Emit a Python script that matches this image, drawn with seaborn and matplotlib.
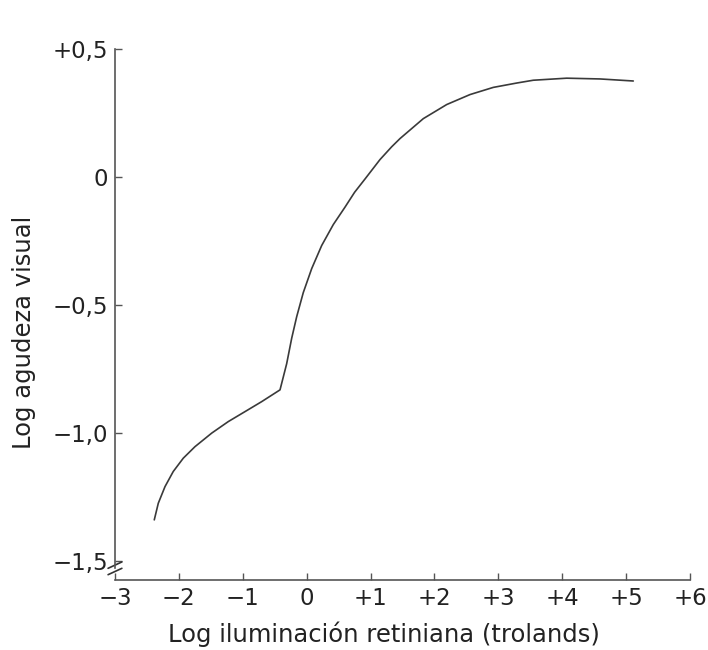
import matplotlib
matplotlib.use("Agg")
import matplotlib.pyplot as plt
import seaborn as sns
import pandas as pd

# curve (log trolands vs log visual acuity)
log_illum = [-2.385, -2.322, -2.217, -2.088, -1.931, -1.748, -1.486, -1.227,
             -0.965, -0.704, -0.417,
             -0.313, -0.234, -0.156, -0.053, 0.079, 0.235, 0.417, 0.600,
             0.750, 0.913, 1.148, 1.331, 1.461, 1.826, 2.192, 2.557, 2.921,
             3.287, 3.547, 4.070, 4.591, 5.112]
log_acuity = [-1.340, -1.275, -1.210, -1.151, -1.099, -1.054, -1.001, -0.956,
              -0.917, -0.878, -0.832,
              -0.730, -0.630, -0.546, -0.452, -0.358, -0.268, -0.186, -0.118,
              -0.060, -0.008, 0.068, 0.118, 0.150, 0.228, 0.283, 0.322, 0.350,
              0.367, 0.378, 0.386, 0.383, 0.375]

x_ticks = [-3, -2, -1, 0, 1, 2, 3, 4, 5, 6]
x_labels = ["\u22123", "\u22122", "\u22121", "0", "+1", "+2", "+3", "+4", "+5", "+6"]
y_ticks = [0.5, 0, -0.5, -1.0, -1.5]
y_labels = ["+0,5", "0", "\u22120,5", "\u22121,0", "\u22121,5"]

df = pd.DataFrame({"x": log_illum, "y": log_acuity})

sns.set_style("ticks")
plt.rcParams['font.family'] = ['DejaVu Sans']
plt.rcParams['xtick.direction'] = 'in'
plt.rcParams['ytick.direction'] = 'in'

fig = plt.figure(figsize=(7.08, 6.5), dpi=100)
ax = fig.add_axes([0.1624, 0.1077, 0.8122, 0.8169])

sns.lineplot(data=df, x="x", y="y", color="#3a3a3a", linewidth=1.2, ax=ax, sort=False)

ax.set_xlim(-3, 6)
ax.set_ylim(-1.575, 0.5)
ax.set_xticks(x_ticks)
ax.set_xticklabels(x_labels)
ax.set_yticks(y_ticks)
ax.set_yticklabels(y_labels)
ax.tick_params(direction="in", length=5, width=1, colors="#555555",
               labelcolor="#222222", labelsize=16.5, pad=5)

ax.spines["top"].set_visible(False)
ax.spines["right"].set_visible(False)
for s in ["left", "bottom"]:
    ax.spines[s].set_color("#555555")
    ax.spines[s].set_linewidth(1.2)
ax.spines["left"].set_bounds(-1.53, 0.5)

# axis break marks
for dy in [0.0, 0.012]:
    ax.plot([-0.012, 0.012], [0.010 + dy, 0.022 + dy], transform=ax.transAxes,
            color="#333333", lw=1.2, clip_on=False)

ax.set_xlabel("Log iluminación retiniana (trolands)", fontsize=17.5, color="#222222")
ax.set_ylabel("Log agudeza visual", fontsize=17.5, color="#222222")
ax.xaxis.set_label_coords(0.468, -0.078)
ax.yaxis.set_label_coords(-0.137, 0.466)

fig.savefig("out.png", dpi=100)
